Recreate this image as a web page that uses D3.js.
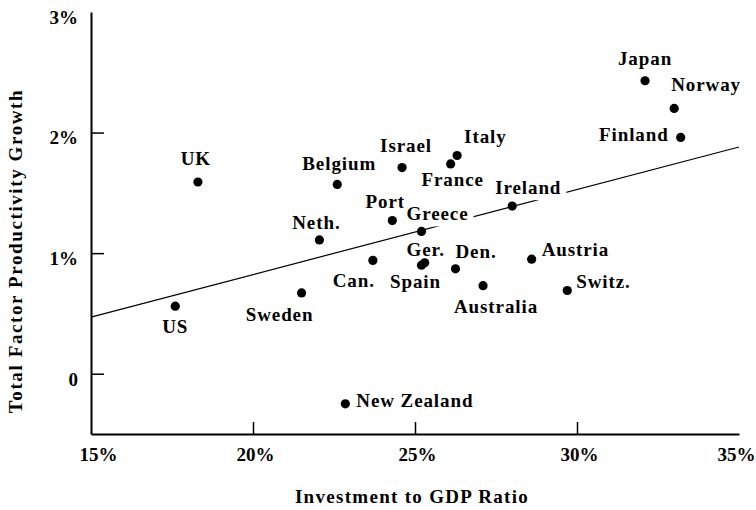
<!DOCTYPE html>
<html>
<head>
<meta charset="utf-8">
<script src="https://cdn.jsdelivr.net/npm/d3@7"></script>
<style>
  body { margin: 0; background: #fff; }
  svg text { font-family: "Liberation Serif", "DejaVu Serif", serif; font-weight: bold; fill: #000; }
</style>
</head>
<body>
<div id="chart"></div>
<script>
// données
const countries = ["Japan", "Norway", "Finland", "Italy", "France", "Israel", "Belgium", "Ireland",
  "Port", "Greece", "Neth.", "UK", "US", "Sweden", "Can.", "Spain", "Ger.", "Den.", "Austria",
  "Australia", "Switz.", "New Zealand"];
const investment = [32.1, 33.0, 33.2, 26.3, 26.1, 24.6, 22.6, 28.0,
  24.3, 25.2, 22.05, 18.3, 17.6, 21.5, 23.7, 25.2, 25.3, 26.25, 28.6,
  27.1, 29.7, 22.85];
const tfpGrowth = [2.43, 2.20, 1.96, 1.81, 1.74, 1.71, 1.57, 1.39,
  1.27, 1.18, 1.11, 1.59, 0.56, 0.67, 0.94, 0.90, 0.92, 0.87, 0.95,
  0.73, 0.69, -0.25];
const trendX = [15, 35];
const trendY = [0.47, 1.88];
const xTicks = [15, 20, 25, 30, 35];
const yTicks = [0, 1, 2, 3];

// placement des étiquettes (décalage en px, ancrage)
const labelPlace = {
  "Japan": [0, -16, "middle"], "Norway": [-3, -17, "start"], "Finland": [-12, 4, "end"],
  "Italy": [7, -12, "start"], "France": [2, 22, "middle"], "Israel": [4, -16, "middle"],
  "Belgium": [2, -14, "middle"], "Ireland": [-17, -12, "start"], "Port": [-7, -13, "middle"],
  "Greece": [-15, -11, "start"], "Neth.": [-3, -11, "middle"], "UK": [-2, -17, "middle"],
  "US": [0, 27, "middle"], "Sweden": [-22, 28, "middle"], "Can.": [2, 27, "end"],
  "Spain": [-6, 23, "middle"], "Ger.": [1, -7, "middle"], "Den.": [0, -11, "start"],
  "Austria": [10, -3, "start"], "Australia": [13, 27, "middle"], "Switz.": [9, -3, "start"],
  "New Zealand": [11, 3, "start"]
};
// petit décalage horizontal des libellés de l'axe des x
const xTickShift = { 15: 7, 20: 2, 25: 2, 30: 2, 35: -3 };

const width = 756, height = 510;
const margin = { top: 12, right: 17, bottom: 76, left: 91 };

const svg = d3.select("#chart").append("svg")
  .attr("width", width)
  .attr("height", height);

const x = d3.scaleLinear().domain([15, 35]).range([margin.left, width - margin.right]);
const y = d3.scaleLinear().domain([-0.5, 3]).range([height - margin.bottom, margin.top]);

// axe des x
const xAxis = svg.append("g")
  .attr("transform", `translate(0,${height - margin.bottom})`)
  .call(d3.axisBottom(x).tickValues(xTicks).tickSizeInner(-12).tickSizeOuter(0)
    .tickFormat(d => d + "%"));
xAxis.selectAll(".tick line").filter(d => d === 15 || d === 35).remove();
xAxis.select(".domain").attr("stroke-width", 2);
xAxis.selectAll(".tick line").attr("stroke-width", 1.5);
xAxis.selectAll(".tick text")
  .attr("x", d => xTickShift[d])
  .attr("y", 14).attr("dy", "0.71em").attr("font-size", 19);

// axe des y
const yAxis = svg.append("g")
  .attr("transform", `translate(${margin.left},0)`)
  .call(d3.axisLeft(y).tickValues(yTicks).tickSizeInner(-13).tickSizeOuter(0)
    .tickFormat(d => d === 0 ? "0" : d + "%"));
yAxis.selectAll(".tick line").filter(d => d === 3).remove();
yAxis.select(".domain").attr("stroke-width", 2);
yAxis.selectAll(".tick line").attr("stroke-width", 1.5);
yAxis.selectAll(".tick text").attr("x", -13).attr("dy", "0.6em").attr("font-size", 19);
svg.selectAll(".tick text").attr("font-family", null);

// titres des axes
svg.append("text")
  .attr("x", 412)
  .attr("y", 503)
  .attr("text-anchor", "middle")
  .attr("font-size", 19)
  .attr("letter-spacing", 1.3)
  .text("Investment to GDP Ratio");

svg.append("text")
  .attr("transform", "translate(22,251) rotate(-90)")
  .attr("text-anchor", "middle")
  .attr("font-size", 19)
  .attr("letter-spacing", 1.6)
  .text("Total Factor Productivity Growth");

// droite de tendance
svg.append("line")
  .attr("x1", x(trendX[0])).attr("y1", y(trendY[0]))
  .attr("x2", x(trendX[1])).attr("y2", y(trendY[1]))
  .attr("stroke", "#000")
  .attr("stroke-width", 1.2);

// étiquettes des pays, avec un fond blanc qui coupe la droite
const labelG = svg.append("g");
const labels = labelG.selectAll("text")
  .data(countries)
  .join("text")
  .attr("x", (d, i) => x(investment[i]) + labelPlace[d][0])
  .attr("y", (d, i) => y(tfpGrowth[i]) + labelPlace[d][1])
  .attr("text-anchor", d => labelPlace[d][2])
  .attr("font-size", 19)
  .attr("letter-spacing", 0.9)
  .text(d => d);

labels.each(function () {
  const b = this.getBBox();
  labelG.insert("rect", () => this)
    .attr("x", b.x - 3)
    .attr("y", b.y + 2)
    .attr("width", b.width + 8)
    .attr("height", b.height)
    .attr("fill", "#fff");
});

// points
svg.append("g")
  .selectAll("circle")
  .data(countries)
  .join("circle")
  .attr("cx", (d, i) => x(investment[i]))
  .attr("cy", (d, i) => y(tfpGrowth[i]))
  .attr("r", 4.6)
  .attr("fill", "#000");
</script>
</body>
</html>
